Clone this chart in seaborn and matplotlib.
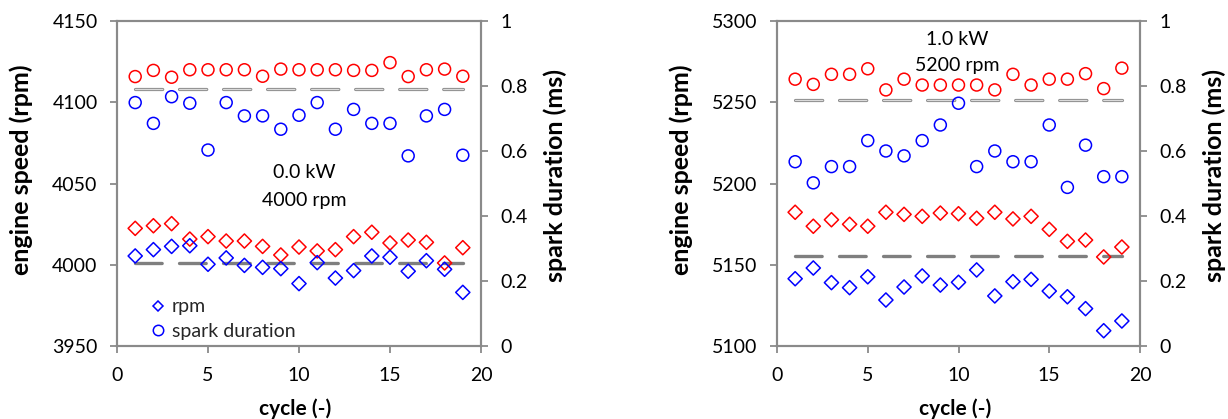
import matplotlib
matplotlib.use("Agg")
import matplotlib.pyplot as plt
import matplotlib.patheffects as pe
from matplotlib.lines import Line2D
import pandas as pd
import seaborn as sns

# ---- data -------------------------------------------------------------
cycles = list(range(1, 20))

# 0.0 kW, 4000 rpm
rpm_red_a = [4022.4, 4024.0, 4025.3, 4015.8, 4017.3, 4014.6, 4014.6, 4011.3, 4006.0, 4010.9,
             4008.5, 4009.3, 4017.3, 4020.0, 4013.4, 4015.2, 4013.8, 4001.1, 4010.5]
rpm_blue_a = [4005.4, 4009.3, 4011.3, 4011.7, 4000.3, 4004.2, 3999.6, 3998.4, 3997.6, 3988.4,
              4001.3, 3991.8, 3996.4, 4005.4, 4004.6, 3996.0, 4002.5, 3997.2, 3983.0]
spark_red_a = [0.829, 0.848, 0.827, 0.850, 0.850, 0.850, 0.850, 0.830, 0.852, 0.850,
               0.850, 0.850, 0.848, 0.848, 0.872, 0.829, 0.850, 0.852, 0.830]
spark_blue_a = [0.749, 0.685, 0.767, 0.747, 0.603, 0.749, 0.708, 0.708, 0.667, 0.710,
                0.749, 0.667, 0.728, 0.685, 0.685, 0.585, 0.708, 0.728, 0.587]

# 1.0 kW, 5200 rpm
rpm_red_b = [5182.3, 5173.7, 5177.7, 5174.9, 5173.7, 5182.3, 5181.0, 5179.8, 5181.8, 5181.4,
             5178.6, 5182.3, 5178.2, 5179.8, 5171.8, 5164.4, 5165.2, 5154.8, 5160.9]
rpm_blue_b = [5141.4, 5148.0, 5139.0, 5135.9, 5142.6, 5128.3, 5136.3, 5143.1, 5137.5, 5139.2,
              5146.8, 5130.8, 5139.6, 5141.0, 5133.8, 5130.3, 5123.0, 5109.4, 5115.4]
spark_red_b = [0.821, 0.805, 0.836, 0.836, 0.853, 0.788, 0.821, 0.803, 0.803, 0.803,
               0.803, 0.788, 0.836, 0.803, 0.821, 0.821, 0.838, 0.792, 0.855]
spark_blue_b = [0.567, 0.502, 0.552, 0.552, 0.632, 0.600, 0.585, 0.632, 0.680, 0.747,
                0.552, 0.600, 0.567, 0.567, 0.680, 0.488, 0.618, 0.521, 0.521]

# dashed guide levels (rpm axis)
guide_heavy = [4001.0, 5155.5]
guide_light = [4108.0, 5251.3]

rpm_limits = [(3950, 4150), (5100, 5300)]
rpm_ticks = [[3950, 4000, 4050, 4100, 4150], [5100, 5150, 5200, 5250, 5300]]
spark_ticks = [0, 0.2, 0.4, 0.6, 0.8, 1]
spark_ticklabels = ["0", "0.2", "0.4", "0.6", "0.8", "1"]
x_ticks = [0, 5, 10, 15, 20]
notes = [("0.0 kW", "4000 rpm"), ("1.0 kW", "5200 rpm")]
note_pos = [((10.3, 4056.5), (10.3, 4039.4)), ((9.95, 5288.7), (9.95, 5272.5))]
legend_labels = ["rpm", "spark duration"]

# ---- style ------------------------------------------------------------
sns.set_theme(style="white")
plt.rcParams["font.family"] = ["Lato", "DejaVu Sans"]
plt.rcParams["lines.scale_dashes"] = False

GRAY = "#8a8a8a"
RED = "#ff0000"
BLUE = "#0000ff"
TICK_FS = 14
XLABEL_FS = 15
YLABEL_FS = 18

W, H = 1228, 419
fig = plt.figure(figsize=(W / 100, H / 100), dpi=100)
fig.patch.set_facecolor("white")

axes_px = [(117, 481), (777, 1140)]
xlabel_center_px = [295, 955]
ylabel_right_px = [33, 693]
top_px, bot_px = 21, 346

panels = [
    (rpm_red_a, rpm_blue_a, spark_red_a, spark_blue_a),
    (rpm_red_b, rpm_blue_b, spark_red_b, spark_blue_b),
]

for i, (rpm_red, rpm_blue, spark_red, spark_blue) in enumerate(panels):
    x0, x1 = axes_px[i]
    wpx, hpx = x1 - x0, bot_px - top_px
    ax = fig.add_axes([x0 / W, 1 - bot_px / H, wpx / W, hpx / H])
    ax2 = ax.twinx()

    df = pd.DataFrame({"cycle": cycles, "rpm_red": rpm_red, "rpm_blue": rpm_blue,
                       "spark_red": spark_red, "spark_blue": spark_blue})

    # dashed guides
    ax.plot([1, 19], [guide_heavy[i]] * 2, color="#7f7f7f", lw=2.4,
            dashes=(19.2, 12.5), dash_capstyle="round", zorder=1)
    ax.plot([1, 19], [guide_light[i]] * 2, color="#dadada", lw=0.9,
            dashes=(19.6, 12.1), dash_capstyle="round", zorder=1,
            path_effects=[pe.Stroke(linewidth=2.3, foreground="#8c8c8c"), pe.Normal()])

    # engine speed (diamonds, left axis)
    for col, c in (("rpm_red", RED), ("rpm_blue", BLUE)):
        sns.scatterplot(data=df, x="cycle", y=col, ax=ax, marker="D", s=52,
                        facecolor="none", edgecolor=c, linewidth=1.1, zorder=3)
    # spark duration (circles, right axis)
    for col, c in (("spark_red", RED), ("spark_blue", BLUE)):
        sns.scatterplot(data=df, x="cycle", y=col, ax=ax2, marker="o", s=74,
                        facecolor="none", edgecolor=c, linewidth=1.1, zorder=3)

    ax.set_xlim(0, 20)
    ax.set_ylim(*rpm_limits[i])
    ax2.set_ylim(0, 1)
    ax.set_xticks(x_ticks)
    ax.set_xticklabels([str(t) for t in x_ticks])
    ax.set_yticks(rpm_ticks[i])
    ax.set_yticklabels([str(t) for t in rpm_ticks[i]])
    ax2.set_yticks(spark_ticks)
    ax2.set_yticklabels(spark_ticklabels)

    for a in (ax, ax2):
        for s in a.spines.values():
            s.set_color(GRAY)
            s.set_linewidth(1.5)
            s.set_visible(True)
        a.grid(False)
    ax.tick_params(axis="both", direction="out", length=5, width=1.3, color=GRAY,
                   labelsize=TICK_FS, labelcolor="black", left=True, bottom=True)
    ax.tick_params(axis="y", pad=9)
    ax.tick_params(axis="x", pad=10)
    ax2.tick_params(axis="y", direction="out", length=5, width=1.3, color=GRAY,
                    labelsize=TICK_FS, labelcolor="black", right=True, pad=9)

    ax.set_xlabel("cycle (-)", fontsize=XLABEL_FS, fontweight="bold", color="black")
    ax.xaxis.set_label_coords((xlabel_center_px[i] - x0) / wpx, -(398 - bot_px) / hpx)
    ax.set_ylabel("engine speed (rpm)", fontsize=YLABEL_FS, fontweight="bold", color="black")
    ax.yaxis.set_label_coords(-(x0 - ylabel_right_px[i]) / wpx, (bot_px - 170) / hpx)
    ax2.set_ylabel("spark duration (ms)", fontsize=YLABEL_FS, fontweight="bold",
                   color="black", rotation=90)
    ax2.yaxis.set_label_coords((x1 + 62 - x0) / wpx, (bot_px - 175) / hpx)

    (nx1, ny1), (nx2, ny2) = note_pos[i]
    ax.text(nx1, ny1, notes[i][0], ha="center", va="center", fontsize=TICK_FS, color="black")
    ax.text(nx2, ny2, notes[i][1], ha="center", va="center", fontsize=TICK_FS, color="black")

    if i == 0:
        handles = [
            Line2D([], [], ls="none", marker="D", ms=5.5, mfc="none", mec=BLUE, mew=1.1),
            Line2D([], [], ls="none", marker="o", ms=7.5, mfc="none", mec=BLUE, mew=1.1),
        ]
        ax.legend(handles, legend_labels, loc="lower left", bbox_to_anchor=(0.075, 0.0),
                  frameon=False, fontsize=TICK_FS, handlelength=0.8, handletextpad=0.3,
                  labelspacing=0.4, borderpad=0.3, borderaxespad=0.0)
    else:
        if ax.get_legend() is not None:
            ax.get_legend().remove()
    if ax2.get_legend() is not None:
        ax2.get_legend().remove()

fig.savefig("out.png", dpi=100, facecolor="white")
